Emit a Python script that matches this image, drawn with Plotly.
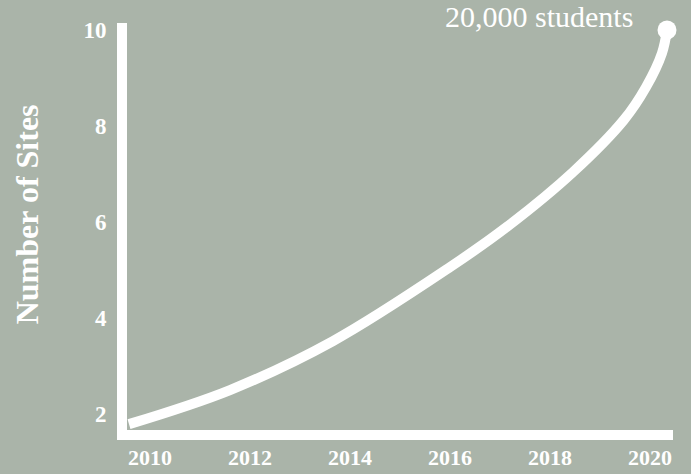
import plotly.graph_objects as go

# Data
curve_years = [2009.58, 2011.6, 2013.66, 2016.0, 2017.14, 2018.46, 2019.48, 2019.92, 2020.24, 2020.34]
curve_sites = [1.79, 2.5, 3.52, 5.06, 5.9, 7.04, 8.13, 8.81, 9.52, 10.0]
x_ticks = [2010, 2012, 2014, 2016, 2018, 2020]
x_tick_labels = ["2010", "2012", "2014", "2016", "2018", "2020"]
y_ticks = [2, 4, 6, 8, 10]
y_tick_labels = ["2", "4", "6", "8", "10"]
end_label = "20,000 students"
y_title = "Number of Sites"

BG = "#aab4a9"
FONT = "Liberation Serif, Times New Roman, serif"

fig = go.Figure()
fig.add_trace(go.Scatter(
    x=curve_years, y=curve_sites, mode="lines",
    line=dict(color="white", width=10, shape="spline", smoothing=1.0),
    hoverinfo="skip", cliponaxis=False, showlegend=False,
))
fig.add_trace(go.Scatter(
    x=[curve_years[-1]], y=[curve_sites[-1]], mode="markers",
    marker=dict(color="white", size=19),
    cliponaxis=False, showlegend=False, hoverinfo="skip",
))
fig.add_annotation(
    x=curve_years[-1], y=curve_sites[-1], text=end_label, showarrow=False,
    xanchor="right", yanchor="middle", xshift=-32, yshift=14,
    font=dict(family=FONT, size=30, color="white"),
)
# y-axis title, placed as the reference shows it
fig.add_annotation(
    xref="paper", yref="paper", x=0, y=0.53, xshift=-100, text=y_title,
    textangle=-90, showarrow=False, xanchor="center", yanchor="middle",
    font=dict(family=FONT, size=32, color="white", weight="bold"),
)

fig.update_layout(
    width=691, height=474,
    paper_bgcolor=BG, plot_bgcolor=BG,
    margin=dict(l=127, r=18, t=23, b=44),
    xaxis=dict(
        range=[2009.54, 2020.46], tickvals=x_ticks, ticktext=x_tick_labels,
        showgrid=False, zeroline=False, showline=True, linecolor="white", linewidth=10,
        ticks="", automargin=False, ticklabelstandoff=-1,
        tickfont=dict(family=FONT, size=22, color="white", weight="bold"),
    ),
    yaxis=dict(
        range=[1.667, 10.146], tickvals=y_ticks, ticktext=y_tick_labels,
        showgrid=False, zeroline=False, showline=True, linecolor="white", linewidth=10,
        ticks="", automargin=False, ticklabelstandoff=6,
        tickfont=dict(family=FONT, size=23, color="white", weight="bold"),
    ),
)

fig.write_html(
    "out.html",
    config={"displayModeBar": False},
    post_script="document.body.style.margin='0';document.body.style.background='" + BG + "';",
)
